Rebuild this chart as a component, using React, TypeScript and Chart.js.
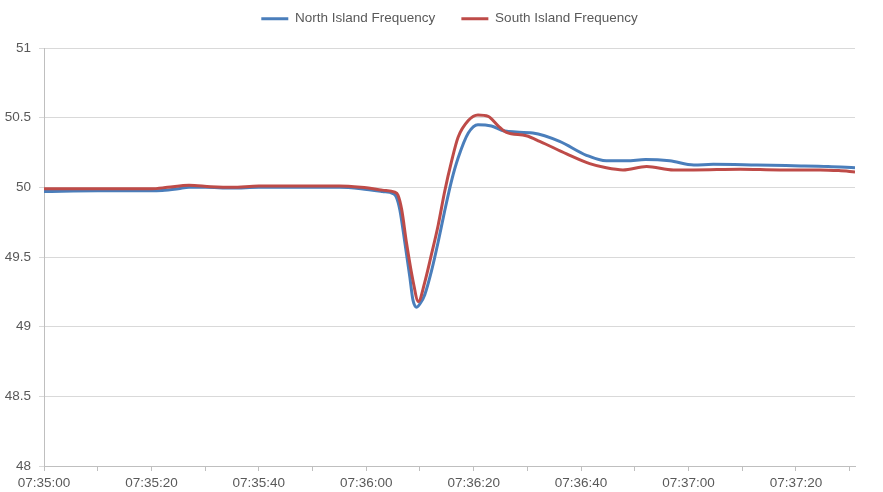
import React, { useEffect, useRef } from "react";
import { Chart, registerables } from "chart.js";

Chart.register(...registerables);

// seconds after 07:35:00
const northTimes = [
  0, 10, 20, 22, 25, 27, 30, 35, 40, 45, 50, 55, 59, 63, 65, 65.6, 66.25, 67.2, 68.1, 68.7,
  69.4, 70.1, 70.9, 72.15, 73.4, 74.6, 75.9, 77.1, 79.0, 80.8, 83.3, 85.2, 86.5, 91, 96, 101,
  104.7, 108.5, 112, 116.5, 121, 124.6, 132.7, 139.5, 146, 151,
];
const northValues = [
  49.97, 49.975, 49.975, 49.978, 49.99, 50.0, 50.0, 49.995, 50.0, 50.0, 50.0, 50.0, 49.99,
  49.97, 49.955, 49.93, 49.84, 49.6, 49.36, 49.19, 49.14, 49.17, 49.23, 49.4, 49.61, 49.83,
  50.05, 50.21, 50.39, 50.45, 50.44, 50.41, 50.4, 50.39, 50.33, 50.23, 50.19, 50.19, 50.2,
  50.19, 50.16, 50.165, 50.16, 50.155, 50.15, 50.14,
];

const southTimes = [
  0, 10, 20, 23, 27, 31, 35, 40, 45, 50, 55, 59, 63, 65.3, 65.9, 66.6, 67.5, 68.7, 69.7,
  70.9, 72.15, 73.4, 74.6, 75.9, 77.1, 79.0, 80.8, 82.7, 84.6, 86.1, 89.8, 92.3, 97.3, 101.6,
  104.7, 107.8, 112.2, 117.2, 121, 129.6, 137, 144.5, 148, 151,
];
const southValues = [
  49.99, 49.99, 49.99, 50.0, 50.015, 50.005, 50.0, 50.01, 50.01, 50.01, 50.01, 50.0, 49.98,
  49.965, 49.945, 49.84, 49.6, 49.33, 49.18, 49.32, 49.52, 49.73, 49.97, 50.19, 50.36, 50.48,
  50.52, 50.51, 50.44, 50.395, 50.37, 50.33, 50.24, 50.17, 50.14, 50.125, 50.15, 50.125,
  50.125, 50.13, 50.125, 50.125, 50.12, 50.11,
];

const seriesNames = ["North Island Frequency", "South Island Frequency"];
const startSeconds = 7 * 3600 + 35 * 60;
const xMin = 0;
const xMax = 151;
const xStep = 10;
const xLabelEvery = 20;
const yMin = 48;
const yMax = 51;
const yStep = 0.5;

const pad2 = (n: number) => (n < 10 ? "0" + n : String(n));
const fmtTime = (s: number) => {
  const t = startSeconds + s;
  const h = Math.floor(t / 3600);
  const m = Math.floor((t % 3600) / 60);
  const sec = Math.round(t % 60);
  return `${pad2(h)}:${pad2(m)}:${pad2(sec)}`;
};

const FONT = "'Liberation Sans', Arial, sans-serif";
const TEXT = "#595959";

const legendSpacer = {
  id: "legendSpacer",
  afterInit(chart: any) {
    const lg = chart.legend;
    if (!lg) return;
    const orig = lg.fit.bind(lg);
    lg.fit = function () {
      orig();
      lg.height = 62;
    };
  },
};

export default function App() {
  const ref = useRef<HTMLCanvasElement | null>(null);

  useEffect(() => {
    if (!ref.current) return;
    const chart = new Chart(ref.current, {
      type: "line",
      data: {
        datasets: [
          {
            label: seriesNames[0],
            data: northTimes.map((t, i) => ({ x: t, y: northValues[i] })),
            borderColor: "#4A7EBB",
            backgroundColor: "#4A7EBB",
            borderWidth: 3,
            pointRadius: 0,
            cubicInterpolationMode: "monotone",
            order: 1,
          },
          {
            label: seriesNames[1],
            data: southTimes.map((t, i) => ({ x: t, y: southValues[i] })),
            borderColor: "#BE4B48",
            backgroundColor: "#BE4B48",
            borderWidth: 3,
            pointRadius: 0,
            cubicInterpolationMode: "monotone",
            order: 0,
          },
        ],
      },
      options: {
        animation: false,
        responsive: false,
        maintainAspectRatio: false,
        layout: { padding: { left: 0, right: 28, top: -14, bottom: 0 } },
        plugins: {
          tooltip: { enabled: false },
          legend: {
            position: "top",
            fullSize: false,
            labels: {
              usePointStyle: true,
              pointStyle: "line",
              pointStyleWidth: 27,
              padding: 26,
              color: TEXT,
              font: { family: FONT, size: 13.5 },
              sort: (a: any, b: any) => a.datasetIndex - b.datasetIndex,
            },
          },
        },
        scales: {
          x: {
            type: "linear",
            min: xMin,
            max: xMax,
            grid: {
              display: true,
              drawOnChartArea: false,
              drawTicks: true,
              tickLength: 5,
              color: "#bfbfbf",
            },
            border: { display: true, color: "#bfbfbf", width: 1 },
            ticks: {
              stepSize: xStep,
              includeBounds: false,
              autoSkip: false,
              maxRotation: 0,
              minRotation: 0,
              padding: 4,
              color: TEXT,
              font: { family: FONT, size: 13.5 },
              callback: (value: any) => {
                const v = Number(value);
                return v % xLabelEvery === 0 ? fmtTime(v) : "";
              },
            },
            afterFit: (s: any) => {
              s.height = 26;
            },
          },
          y: {
            type: "linear",
            position: "left",
            min: yMin,
            max: yMax,
            grid: {
              color: "#d9d9d9",
              lineWidth: 1,
              drawTicks: true,
              tickLength: 5,
            },
            border: { display: true, color: "#bfbfbf", width: 1 },
            ticks: {
              stepSize: yStep,
              padding: 8,
              color: TEXT,
              font: { family: FONT, size: 13.5 },
              callback: (value: any) => String(Math.round(Number(value) * 10) / 10),
            },
            afterFit: (s: any) => {
              s.width = 44;
            },
          },
        },
      },
      plugins: [legendSpacer],
    } as any);
    return () => chart.destroy();
  }, []);

  return (
    <div style={{ position: "fixed", left: 0, top: 0, width: 883, height: 492, background: "#fff" }}>
      <canvas ref={ref} width={883} height={492} style={{ display: "block" }} />
    </div>
  );
}
